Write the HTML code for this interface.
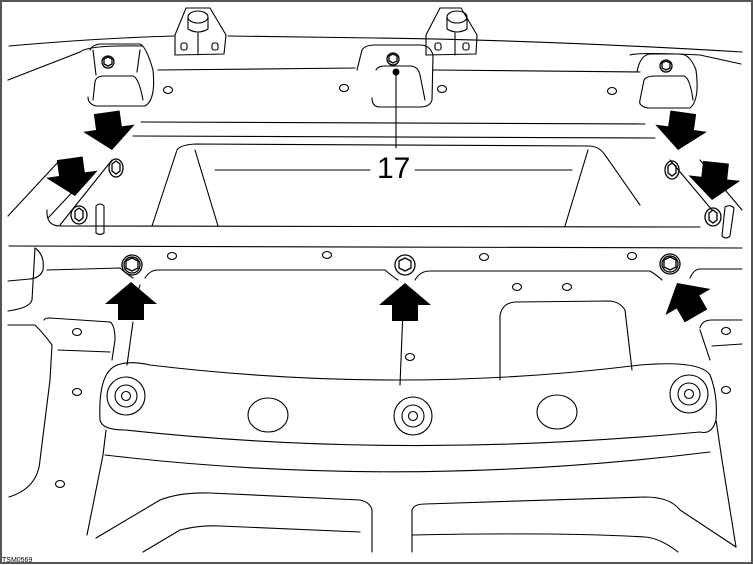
<!DOCTYPE html>
<html><head><meta charset="utf-8"><style>
html,body{margin:0;padding:0;background:#fff}
svg{display:block}
</style></head><body>
<svg width="753" height="565" viewBox="0 0 753 565" xmlns="http://www.w3.org/2000/svg">
<rect x="0" y="0" width="753" height="565" fill="#fff"/>
<rect x="1" y="1" width="751" height="562" fill="none" stroke="#555" stroke-width="2"/>
<g fill="none" stroke="#000" stroke-width="1.1" stroke-linecap="round">
<!-- top outline -->
<path d="M9,46 Q100,38 174,36"/>
<path d="M228,36 L375,38 Q540,40 742,52"/>
<path d="M8,80 L80,52 Q88,45 142,46"/>
<path d="M630,55 Q640,52 700,55 L741,64"/>
<!-- brackets -->
<path d="M175,55 L175,35 L186,8 L210,8 L226,35 L224,54 Z"/>
<ellipse cx="198" cy="17" rx="10" ry="6"/>
<path d="M188,17 L188,29 Q198,35 208,29 L208,17 M198,33 L198,55"/>
<rect x="181" y="43" width="6" height="7" rx="2"/><rect x="212" y="43" width="6" height="7" rx="2"/>
<path d="M426,55 L426,35 L440,8 L461,8 L477,35 L476,54 Z"/>
<ellipse cx="457" cy="17" rx="10" ry="6"/>
<path d="M447,17 L447,29 Q457,35 467,29 L467,17 M455,33 L455,55"/>
<rect x="435" y="43" width="6" height="7" rx="2"/><rect x="463" y="43" width="6" height="7" rx="2"/>
<!-- pockets -->
<path d="M90,50 Q92,45 100,44 L140,44 Q146,46 153,70 Q156,100 145,106 L96,106 Q88,104 88,97"/>
<path d="M93,50 L96,75 M140,50 L137,72"/>
<path d="M93,100 L95,82 Q96,76 104,76 L133,76 Q139,78 143,100"/>
<path d="M357,70 L362,50 Q365,45 375,45 L420,45 Q430,45 433,55 L432,100 Q430,107 420,107 L380,107 Q372,107 372,98"/>
<path d="M376,70 Q378,66 385,66 L410,66 Q418,66 420,75 L425,100"/>
<path d="M158,70 L355,68 M433,70 L640,72"/>
<path d="M637,72 Q640,55 650,54 L680,54 Q690,54 696,70 Q700,100 690,108 L648,108 Q638,106 640,100 L644,80 Q646,76 656,76 L684,76 Q690,78 693,100"/>
<!-- horizontal bands -->
<path d="M141,122 L645,124 M133,136 L655,138"/>
<path d="M177,150 Q180,145 195,144 L590,146 Q600,147 605,155 L640,205"/>
<path d="M177,150 L152,226 M195,150 L218,226 M215,170 L370,170 M415,170 L572,170 M588,150 L565,226"/>
<path d="M47,210 Q46,226 60,226 L700,227"/>
<path d="M8,216 L60,160 M48,218 L80,184 M60,225 L112,160"/>
<path d="M700,160 L742,210 M670,160 L712,210"/>
<!-- pins -->
<path d="M96,206 L96,233 Q100,236 104,233 L104,206 Q100,202 96,206"/>
<path d="M725,207 L722,236 Q726,240 730,236 L734,208 Q730,204 725,207"/>
<!-- second band -->
<path d="M9,246 L742,248"/>
<path d="M47,270 L120,268 Q128,275 133,278 M145,278 Q150,270 158,270 L385,270 Q392,276 398,280 M415,280 Q420,271 430,271 L650,271 Q658,276 662,280 M690,278 Q694,269 700,269 L742,269"/>
<path d="M35,248 Q45,255 43,270 Q40,278 30,279 L8,281"/>
<path d="M8,311 Q30,308 32,300 L35,248"/>
<path d="M8,325 L35,325 Q45,335 52,345 L50,380 L40,460 Q38,488 9,497"/>
<path d="M44,320 Q45,318 50,318 L110,322 Q115,325 115,340 L112,360 M58,350 L110,352"/>
<path d="M133,322 L127,365 M403,310 L400,385 M140,285 L135,300"/>
<!-- center recess -->
<path d="M500,380 L500,316 Q502,303 515,302 L610,301 Q620,302 625,310 L632,370"/>
<path d="M700,330 L710,360 M700,328 Q702,320 712,320 L742,320 M712,346 L742,344"/>
<!-- crossmember -->
<path d="M100,420 Q98,375 115,366 Q128,360 150,365 Q400,395 640,365 Q700,360 710,375 Q718,395 716,420 Q712,435 700,432 Q400,460 125,430 Q102,430 100,420"/>
<path d="M103,455 L106,430 M716,420 L722,460 L736,547"/>
<path d="M103,455 L87,535"/>
<path d="M105,455 Q400,490 710,452"/>
<path d="M96,538 L160,500 Q180,492 210,493 L360,500 Q370,502 372,510 L372,552"/>
<path d="M143,552 L180,530 Q200,525 220,526 L360,532"/>
<path d="M412,552 L412,510 Q414,504 425,504 Q560,500 645,497 Q670,497 680,510 L736,547"/>
<path d="M412,535 Q560,532 645,537 Q660,538 678,552"/>
<!-- holes -->
<ellipse cx="168" cy="90" rx="4.5" ry="3.5"/><ellipse cx="344" cy="88" rx="4.5" ry="3.5"/>
<ellipse cx="442" cy="89" rx="4.5" ry="3.5"/><ellipse cx="612" cy="91" rx="4.5" ry="3.5"/>
<ellipse cx="172" cy="256" rx="4.5" ry="3.5"/><ellipse cx="327" cy="255" rx="4.5" ry="3.5"/>
<ellipse cx="484" cy="257" rx="4.5" ry="3.5"/><ellipse cx="632" cy="256" rx="4.5" ry="3.5"/>
<ellipse cx="517" cy="287" rx="4.5" ry="3.5"/><ellipse cx="567" cy="287" rx="4.5" ry="3.5"/>
<ellipse cx="77" cy="332" rx="4.5" ry="3.5"/><ellipse cx="77" cy="392" rx="4.5" ry="3.5"/>
<ellipse cx="60" cy="484" rx="4.5" ry="3.5"/><ellipse cx="410" cy="357" rx="4.5" ry="3.5"/>
<ellipse cx="726" cy="331" rx="4.5" ry="3.5"/><ellipse cx="726" cy="390" rx="4.5" ry="3.5"/>
<ellipse cx="268" cy="415" rx="20" ry="17"/><ellipse cx="557" cy="412" rx="20" ry="17"/>
<!-- bushings -->
<circle cx="126" cy="396" r="19"/><circle cx="126" cy="396" r="11"/><circle cx="126" cy="396" r="4.5"/>
<circle cx="413" cy="416" r="19"/><circle cx="413" cy="416" r="11"/><circle cx="413" cy="416" r="4.5"/>
<circle cx="689" cy="394" r="19"/><circle cx="689" cy="394" r="11"/><circle cx="689" cy="394" r="4.5"/>
<!-- bolts -->
<g stroke-width="1.3">
<circle cx="108" cy="62" r="6"/><path d="M104,59 L108,57 L112,59 L112,64 L108,66 L104,64 Z"/>
<circle cx="393" cy="59" r="6"/><path d="M389,56 L393,54 L397,56 L397,61 L393,63 L389,61 Z"/>
<circle cx="666" cy="66" r="6"/><path d="M662,63 L666,61 L670,63 L670,68 L666,70 L662,68 Z"/>
<ellipse cx="116" cy="168" rx="7" ry="9"/><path d="M112,164 L116,161 L120,164 L120,171 L116,174 L112,171 Z"/>
<ellipse cx="79" cy="215" rx="8" ry="9"/><path d="M75,211 L79,208 L83,211 L83,218 L79,221 L75,218 Z"/>
<ellipse cx="672" cy="170" rx="7" ry="9"/><path d="M668,166 L672,163 L676,166 L676,173 L672,176 L668,173 Z"/>
<ellipse cx="713" cy="217" rx="8" ry="9"/><path d="M709,213 L713,210 L717,213 L717,220 L713,223 L709,220 Z"/>
<circle cx="132" cy="265" r="10"/><circle cx="132" cy="265" r="8"/><path d="M126,261 L132,258 L138,261 L138,268 L132,271 L126,268 Z"/>
<circle cx="405" cy="265" r="10"/><path d="M399,261 L405,258 L411,261 L411,268 L405,271 L399,268 Z"/>
<circle cx="670" cy="264" r="10"/><circle cx="670" cy="264" r="8"/><path d="M664,260 L670,257 L676,260 L676,267 L670,270 L664,267 Z"/>
</g>
<!-- leader -->
<path d="M396,72 L396,148"/>
</g>
<circle cx="396" cy="72" r="3.5" fill="#000"/>
<text x="377" y="178" font-family="Liberation Sans, sans-serif" font-size="30" fill="#000">17</text>
<!-- arrows -->
<g fill="#000">
<polygon transform="translate(131,282)" points="0,0 26,22 13,22 13,38 -13,38 -13,22 -26,22"/>
<polygon transform="translate(405,283)" points="0,0 26,22 13,22 13,38 -13,38 -13,22 -26,22"/>
<polygon transform="translate(677,283) rotate(-30)" points="0,0 26,22 13,22 13,38 -13,38 -13,22 -26,22"/>
<polygon transform="translate(112,150) rotate(172)" points="0,0 26,22 13,22 13,38 -13,38 -13,22 -26,22"/>
<polygon transform="translate(75,196) rotate(172)" points="0,0 26,22 13,22 13,38 -13,38 -13,22 -26,22"/>
<polygon transform="translate(678,150) rotate(188)" points="0,0 26,22 13,22 13,38 -13,38 -13,22 -26,22"/>
<polygon transform="translate(712,200) rotate(186)" points="0,0 26,22 13,22 13,38 -13,38 -13,22 -26,22"/>
</g>
<text x="2" y="562" font-family="Liberation Sans, sans-serif" font-size="7" fill="#000">TSM0569</text>
</svg>
</body></html>
